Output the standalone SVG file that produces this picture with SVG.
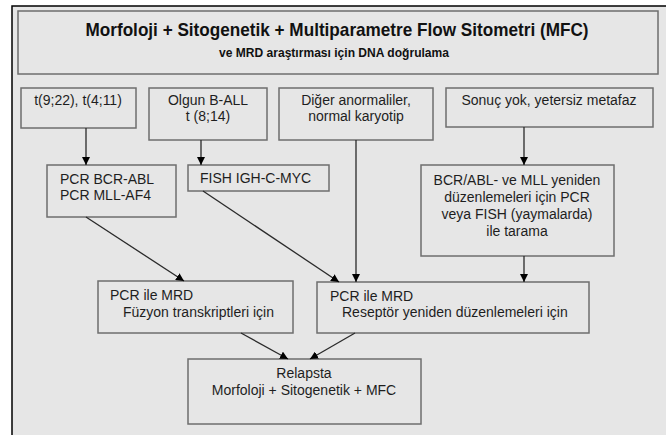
<svg xmlns="http://www.w3.org/2000/svg" width="666" height="435" viewBox="0 0 666 435">
<style>
.box{fill:#e6e6e6;stroke:#6e6e6e;stroke-width:1.5}
.t{font-family:"Liberation Sans",Arial,sans-serif;font-size:14px;fill:#1e1e1e}
.c{text-anchor:middle}
.h{font-family:"Liberation Sans",Arial,sans-serif;font-weight:bold;fill:#111;text-anchor:middle}
.ln{stroke:#2a2a2a;stroke-width:1.3;fill:none;marker-end:url(#ah)}
</style>
<defs>
<marker id="ah" viewBox="0 0 10 10" refX="10" refY="5" markerWidth="8" markerHeight="8" markerUnits="userSpaceOnUse" orient="auto">
<path d="M0,0 L10,5 L0,10 Z" fill="#000"/>
</marker>
</defs>
<rect x="0" y="0" width="666" height="435" fill="#fff"/>
<rect x="12" y="6" width="660" height="440" fill="#e6e6e6" stroke="#000" stroke-width="1.5"/>
<g id="title">
<rect class="box" x="18" y="11" width="640" height="63" stroke-width="2"/>
<text class="h" x="337" y="36" font-size="19" textLength="503" lengthAdjust="spacingAndGlyphs">Morfoloji + Sitogenetik + Multiparametre Flow Sitometri (MFC)</text>
<text class="h" x="334" y="57" font-size="13" textLength="230" lengthAdjust="spacingAndGlyphs">ve MRD araştırması için DNA doğrulama</text>
</g>
<g id="n1">
<rect class="box" x="21" y="88" width="115" height="40"/>
<text class="t" x="78" y="105" text-anchor="middle">t(9;22), t(4;11)</text>
</g>
<g id="n2">
<rect class="box" x="149" y="88" width="118" height="52"/>
<text class="t c" x="208" y="105">Olgun B-ALL</text>
<text class="t c" x="208" y="121">t (8;14)</text>
</g>
<g id="n3">
<rect class="box" x="279" y="88" width="154" height="52"/>
<text class="t c" x="356" y="105">Diğer anormaliler,</text>
<text class="t c" x="356" y="121">normal karyotip</text>
</g>
<g id="n4">
<rect class="box" x="446" y="88" width="207" height="39"/>
<text class="t c" x="549" y="105">Sonuç yok, yetersiz metafaz</text>
</g>
<g id="n5">
<rect class="box" x="47" y="165" width="129" height="52"/>
<text class="t" x="60" y="184">PCR BCR-ABL</text>
<text class="t" x="60" y="200">PCR MLL-AF4</text>
</g>
<g id="n6">
<rect class="box" x="188" y="165" width="141" height="26"/>
<text class="t" x="200" y="183">FISH IGH-C-MYC</text>
</g>
<g id="n7">
<rect class="box" x="421" y="165" width="193" height="91"/>
<text class="t c" x="517" y="185">BCR/ABL- ve MLL yeniden</text>
<text class="t c" x="517" y="202">düzenlemeleri için PCR</text>
<text class="t c" x="517" y="219">veya FISH (yaymalarda)</text>
<text class="t c" x="517" y="236">ile tarama</text>
</g>
<g id="n8">
<rect class="box" x="98" y="281" width="195" height="52"/>
<text class="t" x="110" y="300">PCR ile MRD</text>
<text class="t" x="123" y="317">Füzyon transkriptleri için</text>
</g>
<g id="n9">
<rect class="box" x="317" y="282" width="272" height="51"/>
<text class="t" x="330" y="301">PCR ile MRD</text>
<text class="t" x="342" y="317">Reseptör yeniden düzenlemeleri için</text>
</g>
<g id="n10">
<rect class="box" x="188" y="359" width="233" height="65"/>
<text class="t c" x="304" y="378">Relapsta</text>
<text class="t c" x="304" y="395">Morfoloji + Sitogenetik + MFC</text>
</g>
<g id="connectors">
<line class="ln" x1="86" y1="128" x2="86" y2="165"/>
<line class="ln" x1="201" y1="140" x2="201" y2="165"/>
<line class="ln" x1="356" y1="140" x2="356" y2="282"/>
<line class="ln" x1="524" y1="127" x2="524" y2="165"/>
<line class="ln" x1="524" y1="256" x2="524" y2="282"/>
<line class="ln" x1="86" y1="217" x2="184" y2="281"/>
<line class="ln" x1="203" y1="191" x2="339" y2="282"/>
<line class="ln" x1="241" y1="333" x2="288" y2="359"/>
<line class="ln" x1="355" y1="333" x2="310" y2="359"/>
</g>
</svg>
